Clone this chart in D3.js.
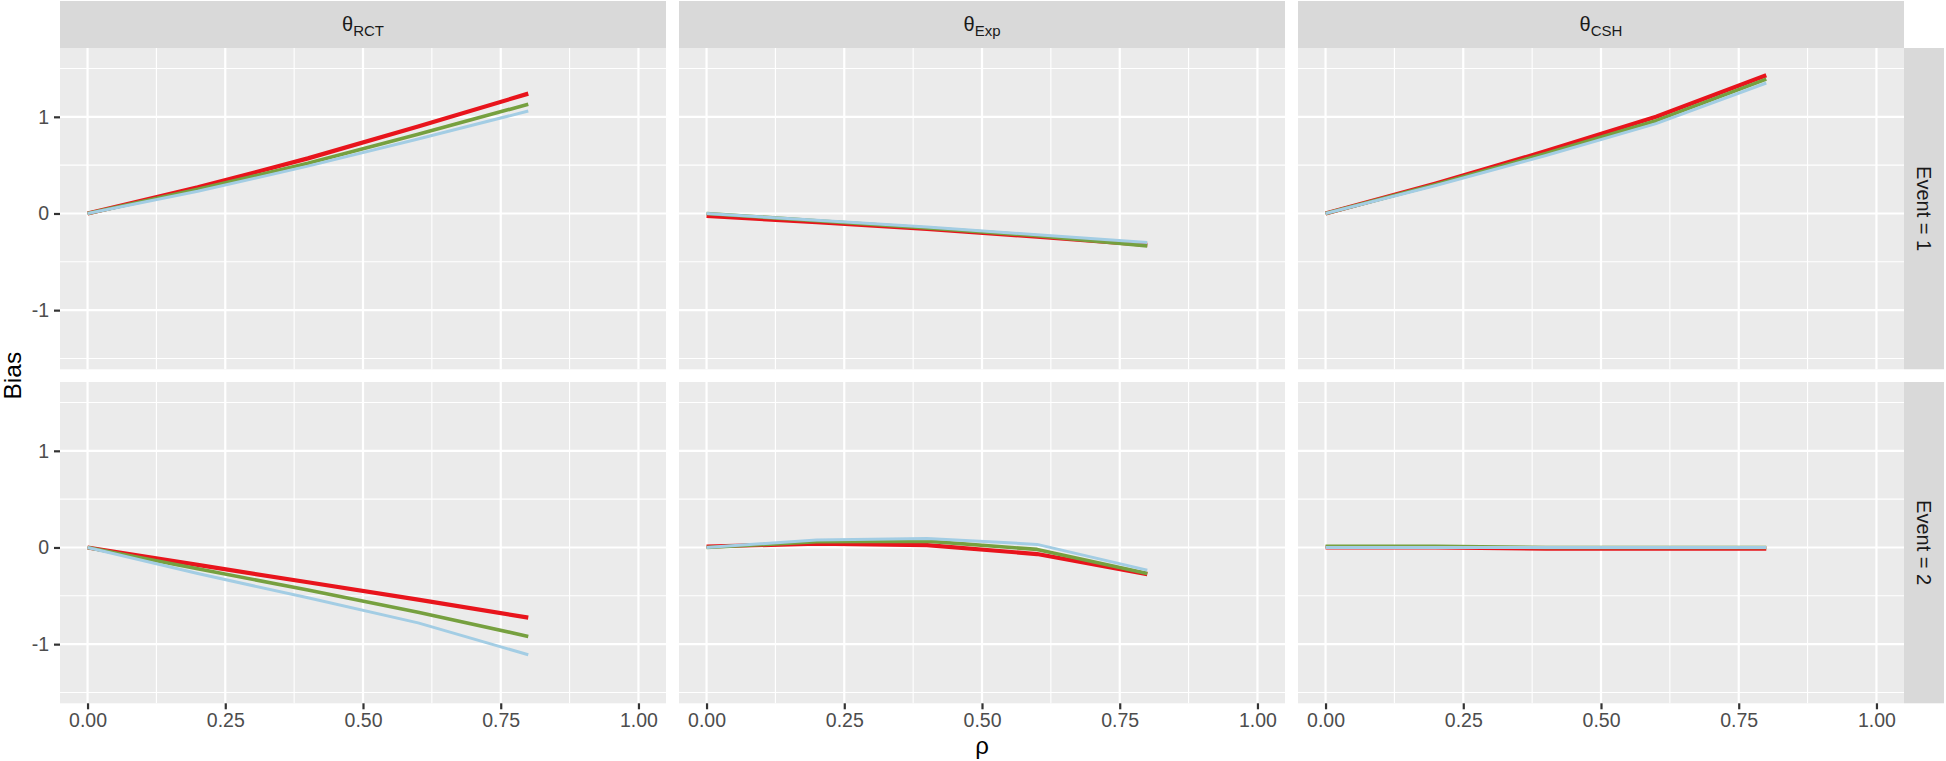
<!DOCTYPE html>
<html>
<head>
<meta charset="utf-8">
<script src="https://cdn.jsdelivr.net/npm/d3@7"></script>
<style>
  html, body { margin: 0; padding: 0; background: #fff; }
  svg { display: block; }
  text { font-family: "Liberation Sans", Arial, sans-serif; }
</style>
</head>
<body>
<svg id="chart" width="1946" height="761"></svg>
<script>
// ---------------- data ----------------
const rho = [0, 0.2, 0.4, 0.6, 0.8];
const estimators = ["RCT", "Exp", "CSH"];
const events = ["1", "2"];
const seriesColors = ["#E8141C", "#76A03F", "#A3CDE4"];
const xTicks = [0, 0.25, 0.5, 0.75, 1];
const xTickLabels = ["0.00", "0.25", "0.50", "0.75", "1.00"];
const yTicks = [-1, 0, 1];
const yTickLabels = ["-1", "0", "1"];

// Event = 1
const rctE1Red   = [0, 0.27, 0.57, 0.90, 1.24];
const rctE1Green = [0, 0.25, 0.52, 0.82, 1.13];
const rctE1Blue  = [0, 0.23, 0.49, 0.77, 1.06];
const expE1Red   = [-0.025, -0.09, -0.16, -0.24, -0.325];
const expE1Green = [0, -0.075, -0.15, -0.23, -0.335];
const expE1Blue  = [0, -0.07, -0.14, -0.22, -0.30];
const cshE1Red   = [0, 0.31, 0.645, 1.00, 1.43];
const cshE1Green = [0, 0.30, 0.62, 0.96, 1.39];
const cshE1Blue  = [0, 0.29, 0.60, 0.93, 1.35];
// Event = 2
const rctE2Red   = [0, -0.18, -0.36, -0.54, -0.725];
const rctE2Green = [0, -0.22, -0.44, -0.67, -0.92];
const rctE2Blue  = [0, -0.27, -0.52, -0.78, -1.11];
const expE2Red   = [0.01, 0.04, 0.025, -0.068, -0.275];
const expE2Green = [0, 0.059, 0.066, -0.02, -0.268];
const expE2Blue  = [0, 0.077, 0.094, 0.032, -0.234];
const cshE2Red   = [0, 0, -0.012, -0.012, -0.012];
const cshE2Green = [0.012, 0.012, 0, 0, 0];
const cshE2Blue  = [0, 0, 0, 0, 0];

const facetData = {
  "RCT|1": [rctE1Red, rctE1Green, rctE1Blue],
  "Exp|1": [expE1Red, expE1Green, expE1Blue],
  "CSH|1": [cshE1Red, cshE1Green, cshE1Blue],
  "RCT|2": [rctE2Red, rctE2Green, rctE2Blue],
  "Exp|2": [expE2Red, expE2Green, expE2Blue],
  "CSH|2": [cshE2Red, cshE2Green, cshE2Blue]
};

// ---------------- layout ----------------
const panelLefts = [60, 679, 1298];
const panelW = 606;
const rowTops = [48, 382];
const panelH = 321.3;
const stripTop = 1;
const stripRightW = 40;
const lineWidths = [4.2, 3.6, 3.0];

const svg = d3.select("#chart");

const x = d3.scaleLinear().domain([-0.05, 1.05]).range([0, panelW]);
const y = d3.scaleLinear().domain([-1.612, 1.712]).range([panelH, 0]);

const xMinor = [0.125, 0.375, 0.625, 0.875];
const yMinor = [-1.5, -0.5, 0.5, 1.5];

events.forEach((ev, r) => {
  estimators.forEach((est, c) => {
    const g = svg.append("g").attr("transform", `translate(${panelLefts[c]},${rowTops[r]})`);
    g.append("rect").attr("width", panelW).attr("height", panelH).attr("fill", "#EBEBEB");
    // minor grid
    g.selectAll(".vmin").data(xMinor).enter().append("line")
      .attr("x1", d => x(d)).attr("x2", d => x(d)).attr("y1", 0).attr("y2", panelH)
      .attr("stroke", "#fff").attr("stroke-width", 1.1);
    g.selectAll(".hmin").data(yMinor).enter().append("line")
      .attr("y1", d => y(d)).attr("y2", d => y(d)).attr("x1", 0).attr("x2", panelW)
      .attr("stroke", "#fff").attr("stroke-width", 1.1);
    // major grid
    g.selectAll(".vmaj").data(xTicks).enter().append("line")
      .attr("x1", d => x(d)).attr("x2", d => x(d)).attr("y1", 0).attr("y2", panelH)
      .attr("stroke", "#fff").attr("stroke-width", 2.2);
    g.selectAll(".hmaj").data(yTicks).enter().append("line")
      .attr("y1", d => y(d)).attr("y2", d => y(d)).attr("x1", 0).attr("x2", panelW)
      .attr("stroke", "#fff").attr("stroke-width", 2.2);

    // lines
    const line = d3.line().x((d, i) => x(rho[i])).y(d => y(d));
    facetData[est + "|" + ev].forEach((vals, s) => {
      g.append("path").datum(vals).attr("d", line)
        .attr("fill", "none").attr("stroke", seriesColors[s])
        .attr("stroke-width", lineWidths[s]).attr("stroke-linejoin", "round");
    });

    // y axis (first column only)
    if (c === 0) {
      const ya = d3.axisLeft(y).tickValues(yTicks).tickFormat((d, i) => yTickLabels[i])
        .tickSize(6).tickPadding(5);
      const ag = g.append("g").call(ya);
      ag.select(".domain").remove();
      ag.selectAll(".tick line").attr("stroke", "#333").attr("stroke-width", 2.2);
      ag.selectAll(".tick text").attr("fill", "#4D4D4D").style("font-size", "19.5px")
        .style("font-family", "'Liberation Sans', Arial, sans-serif");
    }
    // x axis (bottom row only)
    if (r === 1) {
      const xa = d3.axisBottom(x).tickValues(xTicks).tickFormat((d, i) => xTickLabels[i])
        .tickSize(6).tickPadding(4);
      const ag = g.append("g").attr("transform", `translate(0,${panelH})`).call(xa);
      ag.select(".domain").remove();
      ag.selectAll(".tick line").attr("stroke", "#333").attr("stroke-width", 2.2);
      ag.selectAll(".tick text").attr("fill", "#4D4D4D").style("font-size", "19.5px")
        .style("font-family", "'Liberation Sans', Arial, sans-serif");
    }

    // top strips
    if (r === 0) {
      const sg = svg.append("g").attr("transform", `translate(${panelLefts[c]},${stripTop})`);
      sg.append("rect").attr("width", panelW).attr("height", rowTops[0] - stripTop).attr("fill", "#D9D9D9");
      const t = sg.append("text").attr("x", panelW / 2).attr("y", 30)
        .attr("text-anchor", "middle").attr("fill", "#1A1A1A").style("font-size", "20px");
      t.append("tspan").text("θ");
      t.append("tspan").attr("dy", 5).style("font-size", "15px").text(est);
    }
    // right strips
    if (c === 2) {
      const sx = panelLefts[2] + panelW;
      const sg = svg.append("g").attr("transform", `translate(${sx},${rowTops[r]})`);
      sg.append("rect").attr("width", stripRightW).attr("height", panelH).attr("fill", "#D9D9D9");
      sg.append("text")
        .attr("transform", `translate(${stripRightW / 2},${panelH / 2}) rotate(90)`)
        .attr("text-anchor", "middle").attr("dy", "0.35em")
        .attr("fill", "#1A1A1A").style("font-size", "20px")
        .text("Event = " + ev);
    }
  });
});

// axis titles
svg.append("text")
  .attr("x", (panelLefts[0] + panelLefts[2] + panelW) / 2).attr("y", 754)
  .attr("text-anchor", "middle").attr("fill", "#000").style("font-size", "24px")
  .text("ρ");
svg.append("text")
  .attr("transform", `translate(21,${(rowTops[0] + rowTops[1] + panelH) / 2}) rotate(-90)`)
  .attr("text-anchor", "middle").attr("fill", "#000").style("font-size", "24.5px")
  .text("Bias");
</script>
</body>
</html>
